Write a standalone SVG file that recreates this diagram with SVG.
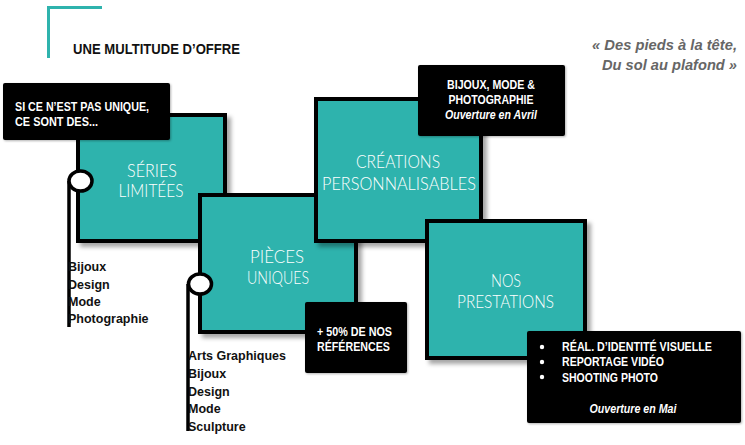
<svg xmlns="http://www.w3.org/2000/svg" width="745" height="445" viewBox="0 0 745 445">
<defs>
<filter id="sh" x="-10%" y="-10%" width="130%" height="130%">
<feDropShadow dx="4" dy="4" stdDeviation="2" flood-color="#000" flood-opacity="0.35"/>
</filter>
<filter id="sh2" x="-10%" y="-10%" width="130%" height="130%">
<feDropShadow dx="1" dy="1" stdDeviation="1" flood-color="#000" flood-opacity="0.3"/>
</filter>
</defs>
<style>
.box{fill:#2fb3ad;stroke:#000;stroke-width:4;filter:url(#sh)}
.lbl{font-family:"Lato","Open Sans",sans-serif;font-weight:300;font-size:18px;fill:#fff;text-anchor:middle}
.blk{fill:#000;filter:url(#sh2)}
.bt{font-family:"Liberation Sans Narrow","Liberation Sans",Arial,sans-serif;font-weight:bold;font-size:13px;fill:#fff}
.bi{font-family:"Liberation Sans Narrow","Liberation Sans",Arial,sans-serif;font-weight:bold;font-style:italic;font-size:13px;fill:#fff}
.lst{font-family:"Liberation Sans",Arial,sans-serif;font-weight:bold;font-size:12.5px;fill:#111}
.ln{stroke:#000;stroke-width:3.5;fill:none}
.dot{fill:#fff;stroke:#000;stroke-width:3.5}
</style>

<g id="header">
<path d="M48.5,58 V7.5 H102" fill="none" stroke="#2fb3ad" stroke-width="3"/>
<text x="73" y="54" font-family="Liberation Sans, Arial, sans-serif" font-weight="bold" font-size="14" fill="#111" textLength="167" lengthAdjust="spacingAndGlyphs">UNE MULTITUDE D’OFFRE</text>
</g>

<g id="quote" font-family="Liberation Sans, Arial, sans-serif" font-weight="bold" font-style="italic" font-size="15" fill="#666" text-anchor="end">
<text x="737" y="50" textLength="145" lengthAdjust="spacingAndGlyphs">« Des pieds à la tête,</text>
<text x="737" y="70" textLength="135" lengthAdjust="spacingAndGlyphs">Du sol au plafond  »</text>
</g>

<g id="connectors">
<line class="ln" x1="69" y1="181" x2="69" y2="327"/>
<line class="ln" x1="188" y1="284" x2="188" y2="431"/>
</g>

<g id="series-limitees">
<rect class="box" x="78" y="115" width="147" height="126"/>
<text class="lbl" x="152" y="176.5" textLength="50" lengthAdjust="spacingAndGlyphs">SÉRIES</text>
<text class="lbl" x="151" y="197" textLength="65" lengthAdjust="spacingAndGlyphs">LIMITÉES</text>
</g>

<g id="note-unique">
<rect class="blk" x="3" y="83" width="167" height="57" rx="2"/>
<text class="bt" x="15" y="111" textLength="134" lengthAdjust="spacingAndGlyphs">SI CE N’EST PAS UNIQUE,</text>
<text class="bt" x="15" y="126" textLength="83" lengthAdjust="spacingAndGlyphs">CE SONT DES...</text>
</g>

<g id="pieces-uniques">
<rect class="box" x="200" y="195" width="156" height="137"/>
<text class="lbl" x="277" y="263" textLength="54" lengthAdjust="spacingAndGlyphs">PIÈCES</text>
<text class="lbl" x="278" y="284" textLength="62" lengthAdjust="spacingAndGlyphs">UNIQUES</text>
</g>

<g id="creations">
<rect class="box" x="316" y="99" width="165" height="142"/>
<text class="lbl" x="398" y="168" textLength="84" lengthAdjust="spacingAndGlyphs">CRÉATIONS</text>
<text class="lbl" x="399" y="190" textLength="154" lengthAdjust="spacingAndGlyphs">PERSONNALISABLES</text>
</g>

<g id="nos-prestations">
<rect class="box" x="427" y="221" width="158" height="137"/>
<text class="lbl" x="506" y="287" textLength="30" lengthAdjust="spacingAndGlyphs">NOS</text>
<text class="lbl" x="505.5" y="308" textLength="97" lengthAdjust="spacingAndGlyphs">PRESTATIONS</text>
</g>

<g id="note-bijoux">
<rect class="blk" x="418" y="65" width="147" height="71" rx="2"/>
<text class="bt" x="491" y="89" text-anchor="middle" textLength="88" lengthAdjust="spacingAndGlyphs">BIJOUX, MODE &amp;</text>
<text class="bt" x="491" y="104" text-anchor="middle" textLength="85" lengthAdjust="spacingAndGlyphs">PHOTOGRAPHIE</text>
<text class="bi" x="491" y="119" text-anchor="middle" textLength="92" lengthAdjust="spacingAndGlyphs">Ouverture en Avril</text>
</g>

<g id="note-references">
<rect class="blk" x="305" y="302" width="102" height="71" rx="2"/>
<text class="bt" x="317" y="336" textLength="75" lengthAdjust="spacingAndGlyphs">+ 50% DE NOS</text>
<text class="bt" x="317" y="351" textLength="73" lengthAdjust="spacingAndGlyphs">RÉFÉRENCES</text>
</g>

<g id="note-prestations">
<rect class="blk" x="527" y="331" width="214" height="92" rx="2"/>
<circle cx="542" cy="347" r="2.2" fill="#fff"/>
<circle cx="542" cy="362" r="2.2" fill="#fff"/>
<circle cx="542" cy="377" r="2.2" fill="#fff"/>
<text class="bt" x="562" y="351" textLength="150" lengthAdjust="spacingAndGlyphs">RÉAL. D’IDENTITÉ VISUELLE</text>
<text class="bt" x="562" y="366" textLength="102" lengthAdjust="spacingAndGlyphs">REPORTAGE VIDÉO</text>
<text class="bt" x="562" y="382" textLength="96" lengthAdjust="spacingAndGlyphs">SHOOTING PHOTO</text>
<text class="bi" x="633" y="413" text-anchor="middle" textLength="87" lengthAdjust="spacingAndGlyphs">Ouverture en Mai</text>
</g>

<g id="markers">
<ellipse class="dot" cx="80.5" cy="181" rx="11.5" ry="10"/>
<ellipse class="dot" cx="200" cy="284" rx="11.5" ry="10"/>
</g>

<g id="list-series">
<text class="lst" x="68" y="271">Bijoux</text>
<text class="lst" x="68" y="289">Design</text>
<text class="lst" x="68" y="306">Mode</text>
<text class="lst" x="68" y="323">Photographie</text>
</g>

<g id="list-pieces">
<text class="lst" x="188" y="360">Arts Graphiques</text>
<text class="lst" x="188" y="378">Bijoux</text>
<text class="lst" x="188" y="396">Design</text>
<text class="lst" x="188" y="413">Mode</text>
<text class="lst" x="188" y="431">Sculpture</text>
</g>
</svg>
